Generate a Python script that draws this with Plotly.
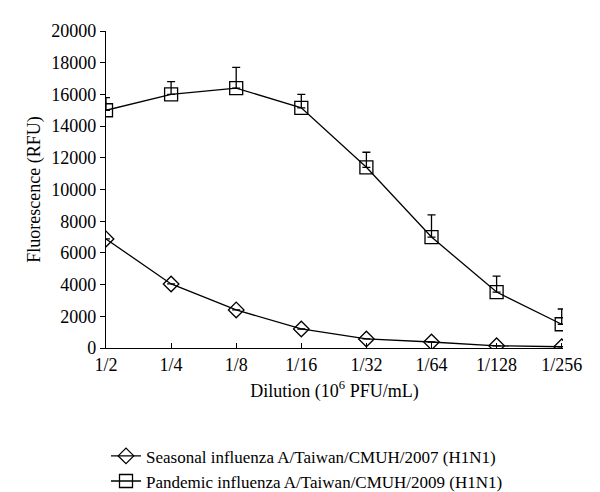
import plotly.graph_objects as go

dilutions = ['1/2', '1/4', '1/8', '1/16', '1/32', '1/64', '1/128', '1/256']

seasonal = [6880, 4040, 2400, 1200, 570, 380, 140, 80]
seasonal_err = [0, 0, 0, 0, 0, 0, 0, 0]

pandemic = [15000, 16000, 16400, 15150, 11400, 7000, 3530, 1500]
pandemic_err = [800, 800, 1300, 850, 950, 1400, 1000, 960]

xpos = list(range(len(dilutions)))

fig = go.Figure()

fig.add_trace(go.Scatter(
    x=xpos, y=seasonal, mode='lines+markers', name='Seasonal influenza A/Taiwan/CMUH/2007 (H1N1)',
    line=dict(color='black', width=1.3),
    marker=dict(symbol='diamond-open', size=12, color='black', line=dict(width=1.3)),
    error_y=dict(type='data', array=seasonal_err, arrayminus=[0]*8, color='black', thickness=1.3, width=4)))

fig.add_trace(go.Scatter(
    x=xpos, y=pandemic, mode='lines+markers', name='Pandemic influenza A/Taiwan/CMUH/2009 (H1N1)',
    line=dict(color='black', width=1.3),
    marker=dict(symbol='square-open', size=13, color='black', line=dict(width=1.3)),
    error_y=dict(type='data', array=pandemic_err, arrayminus=[0]*8, color='black', thickness=1.3, width=4)))

fig.update_layout(
    width=600, height=492, template='plotly_white', plot_bgcolor='white', paper_bgcolor='white',
    font=dict(family='Liberation Serif', size=18, color='black'),
    margin=dict(l=106, r=37, t=31, b=144, autoexpand=False),
    xaxis=dict(tickmode='array', tickvals=xpos, ticktext=dilutions, range=[0, 7.02], automargin=False,
               showgrid=False, zeroline=False, showline=True, linecolor='black', linewidth=1.3,
               ticks='inside', ticklen=5, tickcolor='black', tickwidth=1.3, tickfont=dict(size=18),
               title=dict(text='Dilution (10<sup>6</sup> PFU/mL)', standoff=10, font=dict(size=18))),
    yaxis=dict(range=[0, 20000], dtick=2000, tickformat='d', showgrid=False, zeroline=False, showline=True,
               automargin=False, linecolor='black', linewidth=1.3, ticks='outside', ticklen=5,
               tickcolor='black', tickwidth=1.3, tickfont=dict(size=18),
               title=dict(text='Fluorescence (RFU)', standoff=5, font=dict(size=18))),
    legend=dict(orientation='v', x=0.0, xanchor='left', y=-0.285, yanchor='top',
                font=dict(size=17), tracegroupgap=0, itemwidth=30),
    showlegend=True)

# the page's default body margin shifts the figure, remove it
fig.write_html('out.html', config={'displayModeBar': False},
               post_script="document.body.style.margin='0';")
